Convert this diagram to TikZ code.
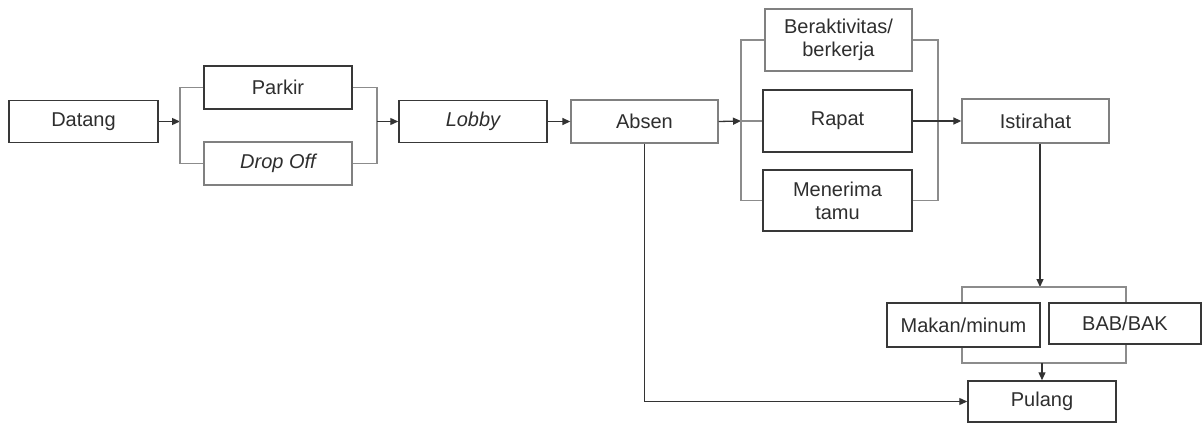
\documentclass[tikz,border=0pt]{standalone}
\usepackage{fontspec}
\setmainfont{Liberation Sans}
\usetikzlibrary{arrows.meta}
\begin{document}
\begin{tikzpicture}[x=1pt,y=-1pt,
  box/.style={draw=black!78,line width=1.5pt,text=black!82,inner sep=0pt,align=center,
    font=\fontsize{20}{23}\selectfont,minimum width=148pt,minimum height=43pt},
  lightbox/.style={box,draw=black!50,line width=1.3pt},
  brk/.style={draw=black!45,line width=1.1pt},
  arr/.style={draw=black!80,line width=1.3pt,-{Triangle[length=8pt,width=7pt]}},
  conn/.style={draw=black!80,line width=1.3pt}]
\useasboundingbox (0,0) rectangle (1203,423);
% nodes
\node[box] (datang) at (83.5,121.5) [minimum width=149pt,minimum height=42pt] {Datang};
\node[box] (parkir) at (278,87.5) {Parkir};
\node[lightbox] (drop) at (278,163.5) {\itshape Drop Off};
\node[box] (lobby) at (473,121.5) [minimum height=42pt] {\itshape Lobby};
\node[lightbox] (absen) at (644.5,121.5) [minimum width=147pt] {Absen};
\node[lightbox] (berakt) at (838.5,40) [minimum width=147pt,minimum height=62pt] {Beraktivitas/\\berkerja};
\node[box] (rapat) at (837.5,121) [minimum width=149pt,minimum height=62pt] {Rapat};
\node[box] (tamu) at (837.5,200.5) [minimum width=149pt,minimum height=61pt] {Menerima\\tamu};
\node[lightbox] (istirahat) at (1035.5,121) [minimum width=147pt,minimum height=44pt] {Istirahat};
\node[box] (makan) at (963.5,325) [minimum width=153pt,minimum height=44pt] {Makan/minum};
\node[box] (bab) at (1125,323.5) [minimum width=152pt,minimum height=41pt] {BAB/BAK};
\node[box] (pulang) at (1042,401.5) [minimum height=41pt] {Pulang};
% junction coordinates
\coordinate (j1l) at (180,121.5);
\coordinate (j1r) at (377,121.5);
\coordinate (j2l) at (741,121);
\coordinate (j2r) at (938,121);
\coordinate (t3) at (1040,287);
\coordinate (b3tl) at (962,287);
\coordinate (b3tr) at (1126,287);
\coordinate (b3bl) at (962,363);
\coordinate (b3br) at (1126,363);
% first bracket
\draw[arr] (datang.east) -- (j1l);
\draw[brk] (parkir.west) -| (j1l) |- (drop.west);
\draw[brk] (parkir.east) -| (j1r) |- (drop.east);
\draw[arr] (j1r) -- (lobby.west);
\draw[arr] (lobby.east) -- (absen.west);
% second bracket
\draw[arr] (absen.east) -- (j2l);
\draw[brk] (berakt.west) -| (j2l) |- (tamu.west);
\draw[brk] (j2l) -- (rapat.west);
\draw[brk] (berakt.east) -| (j2r) |- (tamu.east);
\draw[arr] (rapat.east) -- (istirahat.west);
% third bracket
\draw[arr] (istirahat.south -| t3) -- (t3);
\draw[brk] (b3tl |- makan.north) -- (b3tl) -- (b3tr) -- (b3tr |- bab.north);
\draw[brk] (b3bl |- makan.south) -- (b3bl) -- (b3br) -- (b3br |- bab.south);
\draw[arr] (pulang.north |- b3bl) -- (pulang.north);
% absen to pulang
\draw[arr] (absen.south) |- (pulang.west);
\end{tikzpicture}
\end{document}
